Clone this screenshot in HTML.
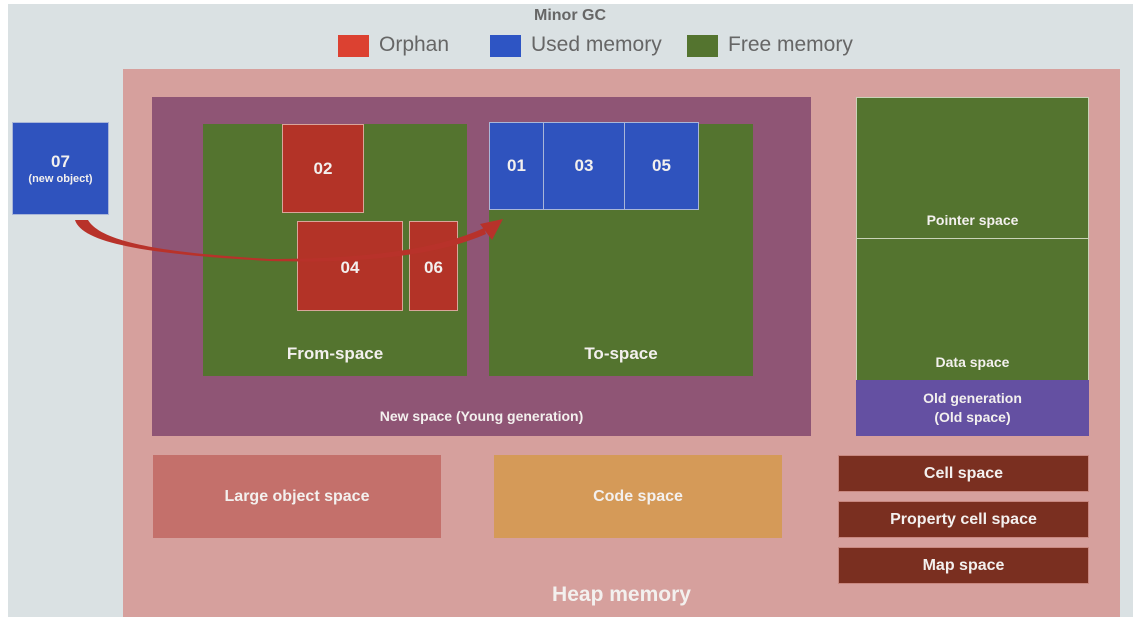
<!DOCTYPE html>
<html><head><meta charset="utf-8"><style>
body{margin:0;width:1140px;height:620px;background:#fff;position:relative;overflow:hidden;font-family:"Liberation Sans",Arial,sans-serif;}
div{position:absolute;box-sizing:border-box;}
.c{display:flex;align-items:center;justify-content:center;text-align:center;color:#f3f0ee;font-weight:bold;}
.g{background:#54742f;}
.r{background:#b33327;border:1px solid #d9a59a;}
.b{background:#2f53be;border:1px solid #a9b6d8;}
.br{background:#7a2f20;border:1px solid #c98880;font-size:16px;}
</style></head><body>
<div style="left:8px;top:4px;width:1125px;height:613px;background:#dae1e3"></div>
<div style="left:0;top:0;width:1140px;height:28px;color:#666;font-weight:bold;font-size:16px;text-align:center;line-height:32px">Minor GC</div>
<div style="left:338px;top:35px;width:31px;height:22px;background:#dc4131"></div>
<div style="left:379px;top:33px;font-size:21px;color:#666">Orphan</div>
<div style="left:490px;top:35px;width:31px;height:22px;background:#2e55c4"></div>
<div style="left:531px;top:33px;font-size:21px;color:#666">Used memory</div>
<div style="left:687px;top:35px;width:31px;height:22px;background:#54742f"></div>
<div style="left:728px;top:33px;font-size:21px;color:#666">Free memory</div>

<div style="left:123px;top:69px;width:997px;height:548px;background:#d6a09d"></div>
<div class="c" style="left:123px;top:578px;width:997px;height:34px;font-size:21px">Heap memory</div>

<div class="c" style="left:152px;top:97px;width:659px;height:339px;background:#8f5575;align-items:flex-end;padding-bottom:12px;font-size:14px">New space (Young generation)</div>
<div class="c g" style="left:203px;top:124px;width:264px;height:252px;align-items:flex-end;padding-bottom:12px;font-size:17px">From-space</div>
<div class="c g" style="left:489px;top:124px;width:264px;height:252px;align-items:flex-end;padding-bottom:12px;font-size:17px">To-space</div>
<div class="c r" style="left:282px;top:124px;width:82px;height:89px;font-size:17px">02</div>
<div class="c r" style="left:297px;top:221px;width:106px;height:90px;font-size:17px;padding-top:4px">04</div>
<div class="c r" style="left:409px;top:221px;width:49px;height:90px;font-size:17px;padding-top:4px">06</div>
<div class="c b" style="left:489px;top:122px;width:55px;height:88px;font-size:17px">01</div>
<div class="c b" style="left:543px;top:122px;width:82px;height:88px;font-size:17px">03</div>
<div class="c b" style="left:624px;top:122px;width:75px;height:88px;font-size:17px">05</div>
<div class="c b" style="left:12px;top:122px;width:97px;height:93px;flex-direction:column;font-size:17px;line-height:20px">07<span style="font-size:11px;line-height:14px">(new object)</span></div>

<div class="c g" style="left:856px;top:97px;width:233px;height:142px;border:1px solid #c9d3b8;align-items:flex-end;padding-bottom:10px;font-size:14px">Pointer space</div>
<div class="c g" style="left:856px;top:238px;width:233px;height:143px;border:1px solid #c9d3b8;align-items:flex-end;padding-bottom:10px;font-size:14px">Data space</div>
<div class="c" style="left:856px;top:380px;width:233px;height:56px;background:#6450a2;font-size:14px;line-height:19px">Old generation<br>(Old space)</div>

<div class="c" style="left:153px;top:455px;width:288px;height:83px;background:#c4706b;font-size:16px">Large object space</div>
<div class="c" style="left:494px;top:455px;width:288px;height:83px;background:#d59a58;font-size:16px">Code space</div>
<div class="c br" style="left:838px;top:455px;width:251px;height:37px">Cell space</div>
<div class="c br" style="left:838px;top:501px;width:251px;height:37px">Property cell space</div>
<div class="c br" style="left:838px;top:547px;width:251px;height:37px">Map space</div>

<svg width="1140" height="620" style="position:absolute;left:0;top:0">
<path d="M75,220 C82,242 140,254 270,261 C380,264 445,252 486,234 L484,228 C445,246 380,259 270,259 C150,252 100,240 88,220 Z" fill="#b8322a"/>
<path d="M480,224 L503,219 L492,240 Z" fill="#b8322a"/>
</svg>
</body></html>
